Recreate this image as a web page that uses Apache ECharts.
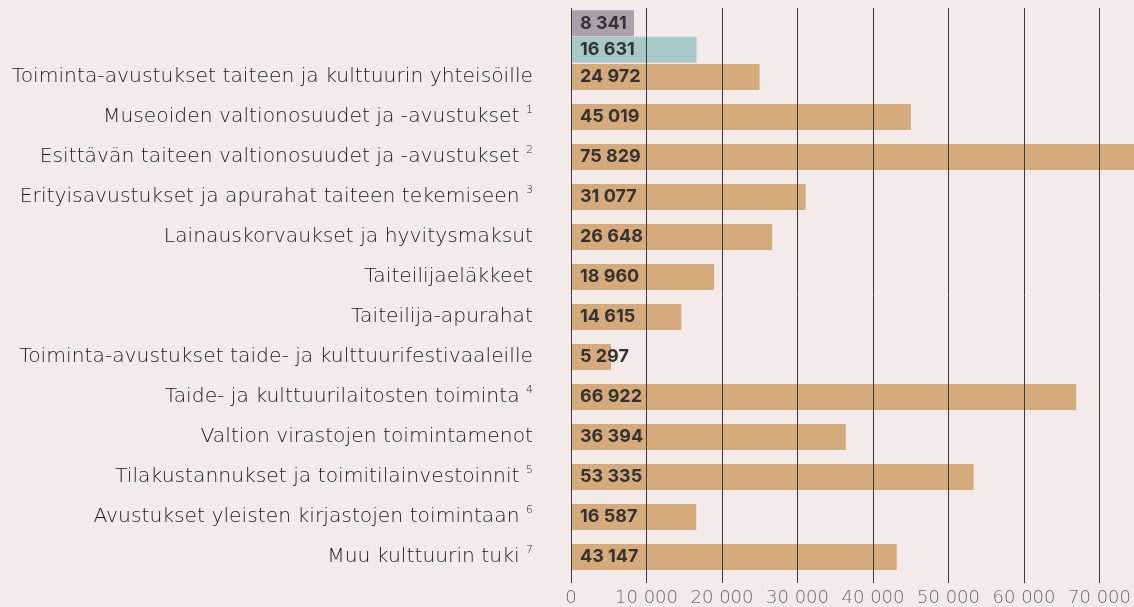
<!DOCTYPE html>
<html>
<head>
<meta charset="utf-8">
<script src="https://cdn.jsdelivr.net/npm/echarts@6/dist/echarts.min.js"></script>
<style>
    html, body { margin: 0; padding: 0; background: #f2ebe9; }
    #chart { width: 1134px; height: 607px; }
</style>
</head>
<body>
<div id="chart"></div>
<script>
const categories = [
    'Toiminta-avustukset taiteen ja kulttuurin yhteisöille',
    'Museoiden valtionosuudet ja -avustukset',
    'Esittävän taiteen valtionosuudet ja -avustukset',
    'Erityisavustukset ja apurahat taiteen tekemiseen',
    'Lainauskorvaukset ja hyvitysmaksut',
    'Taiteilijaeläkkeet',
    'Taiteilija-apurahat',
    'Toiminta-avustukset taide- ja kulttuurifestivaaleille',
    'Taide- ja kulttuurilaitosten toiminta',
    'Valtion virastojen toimintamenot',
    'Tilakustannukset ja toimitilainvestoinnit',
    'Avustukset yleisten kirjastojen toimintaan',
    'Muu kulttuurin tuki',
];
const notes = ['', '1', '2', '3', '', '', '', '', '4', '', '5', '6', '7'];
const values = [24972, 45019, 75829, 31077, 26648, 18960, 14615, 5297, 66922, 36394, 53335, 16587, 43147];

// the two comparison bars above the first row
const topValues = [8341, 16631];
const topColors = ['#ad9fab', '#a8c9c9'];

const tickStep = 10000;

const fmt = (v) => String(v).replace(/\B(?=(\d{3})+(?!\d))/g, ' ');

const chartDom = document.getElementById('chart');
const myChart = echarts.init(chartDom);

const xMax = 74570;
const LEFT = 571;

const valueLabel = {
    show: true,
    position: 'insideLeft',
    distance: 9,
    color: '#333333',
    fontFamily: 'Inter',
    fontWeight: 'bold',
    fontSize: 18,
    formatter: (p) => fmt(p.value),
};

const option = {
    backgroundColor: '#f2ebe9',
    animation: false,
    grid: [
        { left: LEFT, right: 0, top: 8, bottom: 23 },
        { left: LEFT, right: 0, top: 57, height: 520 },
        { left: LEFT, right: 0, top: 10, height: 53 },
    ],
    xAxis: [
        {
            gridIndex: 0,
            type: 'value',
            min: 0,
            max: xMax,
            interval: tickStep,
            z: 10,
            axisLine: { show: false },
            axisTick: { show: false },
            splitLine: { show: true, lineStyle: { color: '#3a3a3a', width: 1 } },
            axisLabel: {
                margin: 6,
                showMaxLabel: false,
                color: '#6a6a6a',
                fontFamily: 'DejaVu Sans',
                fontWeight: 200,
                fontSize: 18,
                formatter: (v) => fmt(v),
            },
        },
        { gridIndex: 1, type: 'value', min: 0, max: xMax, show: false },
        { gridIndex: 2, type: 'value', min: 0, max: xMax, show: false },
    ],
    yAxis: [
        { gridIndex: 0, type: 'value', show: false },
        {
            gridIndex: 1,
            type: 'category',
            inverse: true,
            data: categories,
            axisLine: { show: false },
            axisTick: { show: false },
            axisLabel: {
                margin: 38,
                color: '#1a1a1a',
                fontFamily: 'DejaVu Sans',
                fontWeight: 200,
                fontSize: 20.3,
                formatter: (v, i) => (notes[i] ? `${v} {sup|${notes[i]}}` : v),
                rich: {
                    sup: {
                        fontFamily: 'DejaVu Sans',
                        fontWeight: 200,
                        fontSize: 11,
                        color: '#1a1a1a',
                        verticalAlign: 'top',
                        lineHeight: 24,
                    },
                },
            },
        },
        {
            gridIndex: 2,
            type: 'category',
            inverse: true,
            data: ['a', 'b'],
            show: false,
        },
    ],
    series: [
        {
            type: 'bar',
            xAxisIndex: 1,
            yAxisIndex: 1,
            barWidth: 26,
            itemStyle: { color: '#d5ab7b' },
            label: valueLabel,
            data: values,
        },
        {
            type: 'bar',
            xAxisIndex: 2,
            yAxisIndex: 2,
            barWidth: 26,
            label: valueLabel,
            data: topValues.map((v, i) => ({ value: v, itemStyle: { color: topColors[i] } })),
        },
    ],
};
myChart.setOption(option);
</script>
</body>
</html>
